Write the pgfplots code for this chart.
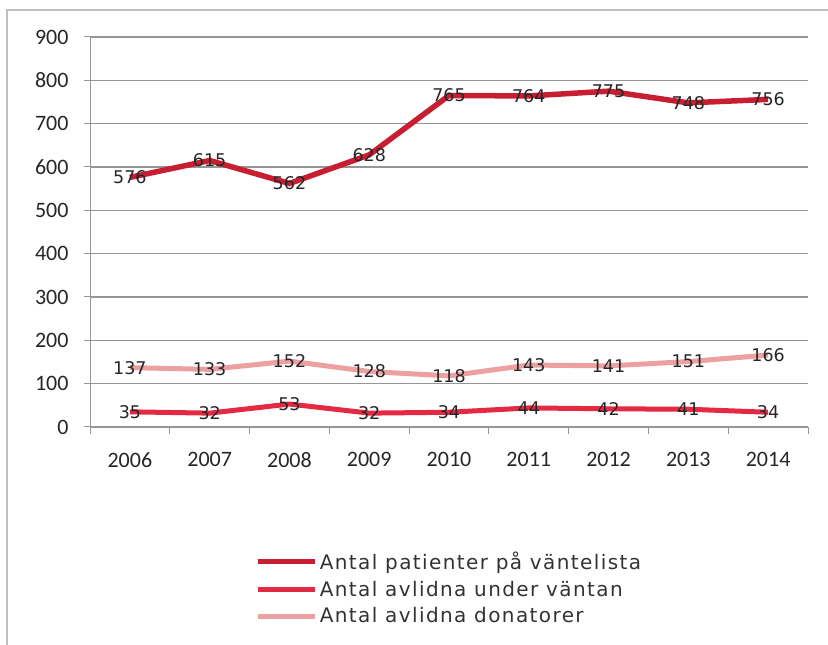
\documentclass[border=0pt]{standalone}
\usepackage{pgfplots}
\pgfplotsset{compat=1.18}
\usepackage{fontspec}
\setmainfont{Carlito}
\newfontfamily\lblfont{DejaVu Sans}
\newfontfamily\legfont[LetterSpace=7]{DejaVu Sans}
\definecolor{cA}{RGB}{200,30,50}
\definecolor{cB}{RGB}{228,42,66}
\definecolor{cC}{RGB}{236,160,160}
\definecolor{gridc}{RGB}{150,150,150}
\begin{document}
\begin{tikzpicture}
\useasboundingbox (0,0) rectangle (828bp,645bp);
\draw[color=gridc!60, line width=1.2bp] (7bp,0) -- (7bp,635bp) -- (828bp,635bp);
\begin{axis}[
  at={(90bp,218bp)}, anchor=south west,
  scale only axis, width=718bp, height=390bp,
  xmin=-0.5, xmax=8.5, ymin=0, ymax=900,
  xtick={0,...,8},
  xticklabels={2006,2007,2008,2009,2010,2011,2012,2013,2014},
  minor xtick={-0.5,0.5,...,8.5},
  ytick={0,100,...,900},
  major x tick style={draw=none},
  tick align=outside,
  minor tick length=7bp, major tick length=6bp,
  every tick/.style={gridc, line width=1bp},
  axis x line*=bottom, axis y line*=left,
  axis line style={gridc, line width=1bp},
  ymajorgrids, grid style={gridc, line width=1.2bp},
  tick label style={font=\fontsize{22bp}{24bp}\selectfont, text=black!85},
  xticklabel style={yshift=-16bp},
  yticklabel style={xshift=-12bp},
  /pgf/number format/assume math mode=true,
  nodes near coords,
  every node near coord/.style={anchor=center, font=\lblfont\fontsize{17.5bp}{19bp}\selectfont, text=black!85},
  legend style={at={(0.23,-0.315)}, anchor=north west, draw=none, fill=none,
    font=\legfont\fontsize{20bp}{23bp}\selectfont, text=black!80,
    row sep=6bp, inner sep=0pt},
  legend cell align=left,
  legend image code/.code={\draw[#1] (0bp,0bp) -- (57bp,0bp);},
  clip=false,
]
\addplot[cA, line width=5.5bp] coordinates {(0,576)(1,615)(2,562)(3,628)(4,765)(5,764)(6,775)(7,748)(8,756)};
\addlegendentry{Antal patienter på väntelista}
\addplot[cB, line width=5bp] coordinates {(0,35)(1,32)(2,53)(3,32)(4,34)(5,44)(6,42)(7,41)(8,34)};
\addlegendentry{Antal avlidna under väntan}
\addplot[cC, line width=5bp] coordinates {(0,137)(1,133)(2,152)(3,128)(4,118)(5,143)(6,141)(7,151)(8,166)};
\addlegendentry{Antal avlidna donatorer}
\end{axis}
\end{tikzpicture}
\end{document}
